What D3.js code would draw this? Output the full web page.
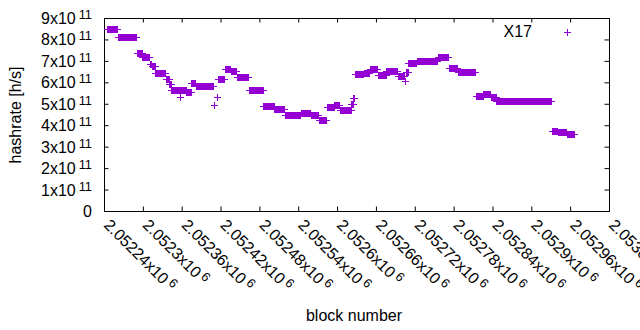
<!DOCTYPE html>
<html>
<head>
<meta charset="utf-8">
<script src="https://cdn.jsdelivr.net/npm/d3@7"></script>
<style>
body { margin: 0; background: #fff; }
text { font-family: "Liberation Sans", Arial, sans-serif; font-size: 16px; fill: #000; }
</style>
</head>
<body>
<svg id="chart" width="640" height="330"></svg>
<script>
// runs of blocks sharing one hashrate value (x10^11 h/s)
var blockFrom = [2052245, 2052261, 2052291, 2052299, 2052311, 2052314, 2052319, 2052335, 2052341, 2052344,
  2052358, 2052359, 2052367, 2052375, 2052382, 2052410, 2052414, 2052416, 2052427, 2052436,
  2052445, 2052464, 2052486, 2052503, 2052519, 2052544, 2052559, 2052572, 2052584, 2052596,
  2052604, 2052622, 2052625, 2052627, 2052641, 2052651, 2052663, 2052676, 2052694, 2052705,
  2052706, 2052710, 2052723, 2052756, 2052773, 2052787, 2052814, 2052826, 2052837, 2052846,
  2052932, 2052941, 2052955];
var blockTo = [2052260, 2052290, 2052298, 2052310, 2052313, 2052318, 2052334, 2052340, 2052343, 2052357,
  2052358, 2052366, 2052374, 2052381, 2052408, 2052410, 2052414, 2052426, 2052435, 2052444,
  2052463, 2052485, 2052502, 2052518, 2052543, 2052558, 2052571, 2052583, 2052595, 2052603,
  2052621, 2052624, 2052626, 2052640, 2052650, 2052662, 2052675, 2052693, 2052704, 2052705,
  2052709, 2052722, 2052755, 2052772, 2052786, 2052813, 2052825, 2052836, 2052845, 2052931,
  2052940, 2052954, 2052966];
var hashrate = [8.49, 8.12, 7.37, 7.20, 6.84, 6.75, 6.44, 6.14, 5.94, 5.64,
  5.32, 5.64, 5.55, 5.97, 5.82, 4.94, 5.32, 6.14, 6.60, 6.53,
  6.25, 5.64, 4.88, 4.77, 4.50, 4.57, 4.46, 4.24, 4.83, 4.92,
  4.72, 5.00, 5.27, 6.39, 6.45, 6.64, 6.35, 6.51, 6.28, 6.08,
  6.50, 6.90, 6.98, 7.18, 6.67, 6.48, 5.36, 5.45, 5.30, 5.13,
  3.73, 3.68, 3.59];

var xTickValues = [2052240, 2052300, 2052360, 2052420, 2052480, 2052540, 2052600,
  2052660, 2052720, 2052780, 2052840, 2052900, 2052960, 2053020];
var xTickLabels = ["2.05224", "2.0523", "2.05236", "2.05242", "2.05248", "2.05254", "2.0526",
  "2.05266", "2.05272", "2.05278", "2.05284", "2.0529", "2.05296", "2.05302"];
var yTickValues = [0, 1e11, 2e11, 3e11, 4e11, 5e11, 6e11, 7e11, 8e11, 9e11];
var yTickLabels = ["0", "1", "2", "3", "4", "5", "6", "7", "8", "9"];
var seriesName = "X17";

var points = [];
blockFrom.forEach(function(b, i) {
  for (var n = b; n <= blockTo[i]; n++) points.push({ block: n, hash: hashrate[i] * 1e11 });
});

var svg = d3.select("#chart");
var purple = "#9400d3";
var plus = "M-3.5,0H3.5M0,-3.5V3.5";

var x = d3.scaleLinear().domain([2052240, 2053020]).range([104, 609]);
var y = d3.scaleLinear().domain([0, 9e11]).range([211, 18]);

// tics on all four sides, pointing in
var tk = 4.5;
svg.append("g").attr("transform", "translate(0,211)")
  .call(d3.axisBottom(x).tickValues(xTickValues).tickSize(-tk).tickFormat(""));
svg.append("g").attr("transform", "translate(0,18)")
  .call(d3.axisTop(x).tickValues(xTickValues).tickSize(-tk).tickFormat(""));
svg.append("g").attr("transform", "translate(104,0)")
  .call(d3.axisLeft(y).tickValues(yTickValues).tickSize(-tk).tickFormat(""));
svg.append("g").attr("transform", "translate(609,0)")
  .call(d3.axisRight(y).tickValues(yTickValues).tickSize(-tk).tickFormat(""));
svg.selectAll(".domain").remove();
svg.selectAll(".tick line").attr("stroke", "#000");

svg.append("rect")
  .attr("x", 104.5).attr("y", 18.5).attr("width", 505).attr("height", 193)
  .attr("fill", "none").attr("stroke", "#000");

// y tick labels  Nx10^11
yTickValues.forEach(function(v, i) {
  var t = svg.append("text").attr("x", 92).attr("y", y(v) + 6).attr("text-anchor", "end");
  if (v == 0) { t.text("0"); return; }
  t.append("tspan").text(yTickLabels[i] + "x10");
  t.append("tspan").attr("dx", 3).attr("dy", -5).style("font-size", "12.8px").text("11");
});

// x tick labels, rotated (the last one runs off the right edge, as in gnuplot)
xTickValues.forEach(function(v, i) {
  var t = svg.append("text")
    .attr("transform", "translate(" + (x(v) - 1) + ",226) rotate(45)");
  t.append("tspan").text(xTickLabels[i] + "x10");
  t.append("tspan").attr("dx", 3).attr("dy", -5).style("font-size", "12.8px").text("6");
});

svg.append("text").attr("x", 354).attr("y", 321).attr("text-anchor", "middle").text("block number");
svg.append("text").attr("transform", "translate(21,115) rotate(-90)")
  .attr("text-anchor", "middle").text("hashrate [h/s]");

// points, snapped to pixels so runs fill in solid
svg.append("g").attr("shape-rendering", "crispEdges")
  .selectAll("path").data(points).enter().append("path")
  .attr("d", plus)
  .attr("transform", function(d) {
    return "translate(" + (Math.round(x(d.block)) + 0.5) + "," + (Math.round(y(d.hash)) + 0.5) + ")";
  })
  .attr("fill", "none").attr("stroke", purple).attr("stroke-width", 1);

// key
svg.append("text").attr("x", 532).attr("y", 37).attr("text-anchor", "end").text(seriesName);
svg.append("path").attr("d", plus).attr("transform", "translate(567.5,32.5)")
  .attr("shape-rendering", "crispEdges")
  .attr("fill", "none").attr("stroke", purple);
</script>
</body>
</html>
